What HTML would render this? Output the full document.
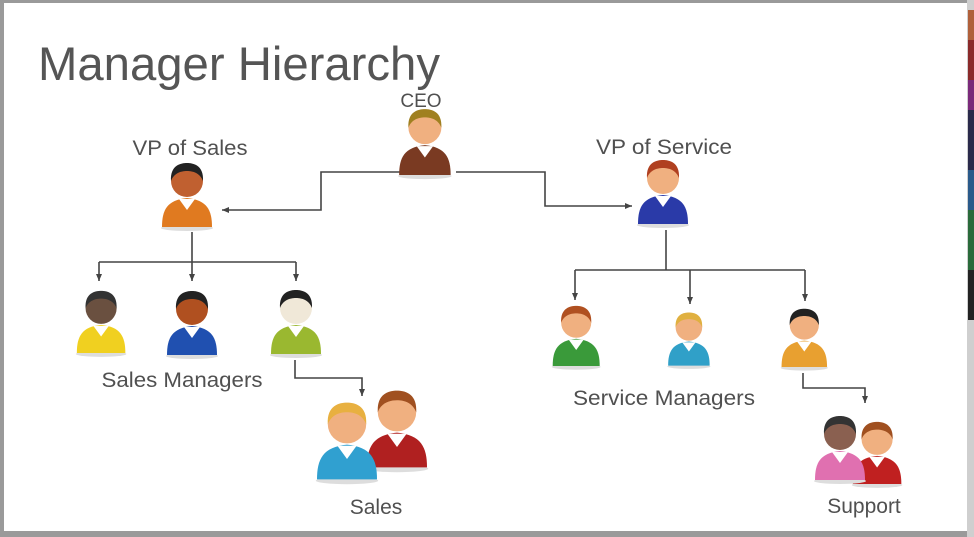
<!DOCTYPE html>
<html><head><meta charset="utf-8"><style>
html,body{margin:0;padding:0;background:#fff;}
svg{display:block;}
text{font-family:"Liberation Sans",sans-serif;fill:#505050;}
</style></head><body>
<svg width="974" height="537" viewBox="0 0 974 537" xmlns="http://www.w3.org/2000/svg">
<defs>
<marker id="a" markerWidth="8" markerHeight="8" refX="7" refY="4" orient="auto" markerUnits="userSpaceOnUse">
<path d="M0,1 L7,4 L0,7 Z" fill="#444"/></marker>
<g id="p">
<ellipse cx="30" cy="68" rx="26" ry="3" fill="#ddd"/>
<path d="M5 67 C5 50 10 40 30 38 C50 40 55 50 55 67 Z" fill="var(--b)"/>
<path d="M22 39 L30 50 L38 39 Z" fill="#fff"/>
<circle cx="30" cy="21" r="16" fill="var(--s)"/>
<path d="M14 21 C13 5 24 3 30 3 C36 3 47 5 46 21 C43 13 36 11 30 11 C24 11 17 13 14 21 Z" fill="var(--h)"/>
</g>
</defs>
<rect x="0" y="0" width="974" height="537" fill="#9a9a9a"/>
<rect x="4" y="3" width="963" height="528" fill="#fff"/>
<rect x="967" y="0" width="7" height="537" fill="#cfcfcf"/>
<rect x="968" y="10" width="6" height="30" fill="#b0603a"/>
<rect x="968" y="40" width="6" height="40" fill="#8a2a2a"/>
<rect x="968" y="80" width="6" height="30" fill="#7a2a7a"/>
<rect x="968" y="110" width="6" height="60" fill="#2a2a4a"/>
<rect x="968" y="170" width="6" height="40" fill="#2a5a8a"/>
<rect x="968" y="210" width="6" height="60" fill="#2a6a3a"/>
<rect x="968" y="270" width="6" height="50" fill="#222"/>

<text x="38" y="80" font-size="47" textLength="402" lengthAdjust="spacingAndGlyphs" style="fill:#555">Manager Hierarchy</text>
<text x="421" y="107" font-size="19" text-anchor="middle">CEO</text>
<text x="190" y="155" font-size="21" text-anchor="middle" textLength="115" lengthAdjust="spacingAndGlyphs">VP of Sales</text>
<text x="664" y="154" font-size="21" text-anchor="middle" textLength="136" lengthAdjust="spacingAndGlyphs">VP of Service</text>
<text x="182" y="387" font-size="21" text-anchor="middle" textLength="161" lengthAdjust="spacingAndGlyphs">Sales Managers</text>
<text x="664" y="405" font-size="21" text-anchor="middle" textLength="182" lengthAdjust="spacingAndGlyphs">Service Managers</text>
<text x="376" y="514" font-size="21" text-anchor="middle">Sales</text>
<text x="864" y="513" font-size="21" text-anchor="middle">Support</text>

<g stroke="#444" stroke-width="1.6" fill="none">
<path d="M400 172 H321 V210 H222" marker-end="url(#a)"/>
<path d="M456 172 H545 V206 H632" marker-end="url(#a)"/>
<path d="M192 232 V262"/>
<path d="M99 262 H296"/>
<path d="M99 262 V281" marker-end="url(#a)"/>
<path d="M192 262 V281" marker-end="url(#a)"/>
<path d="M296 262 V281" marker-end="url(#a)"/>
<path d="M666 230 V270"/>
<path d="M575 270 H805"/>
<path d="M575 270 V300" marker-end="url(#a)"/>
<path d="M690 270 V304" marker-end="url(#a)"/>
<path d="M805 270 V301" marker-end="url(#a)"/>
<path d="M295 360 V378 H362 V396" marker-end="url(#a)"/>
<path d="M803 373 V388 H865 V403" marker-end="url(#a)"/>
</g>

<use href="#p" transform="translate(394,106) scale(1.03)" style="--b:#7a3a22;--s:#f0b080;--h:#a08020"/>
<use href="#p" transform="translate(157,160) scale(1)" style="--b:#e07a20;--s:#c06030;--h:#222"/>
<use href="#p" transform="translate(633,157) scale(1)" style="--b:#2a3aa8;--s:#f0b080;--h:#b04020"/>
<use href="#p" transform="translate(72,288) scale(0.97)" style="--b:#f0d020;--s:#6a5040;--h:#333"/>
<use href="#p" transform="translate(162,288) scale(1)" style="--b:#2050b0;--s:#b05020;--h:#222"/>
<use href="#p" transform="translate(266,287) scale(1)" style="--b:#9ab830;--s:#f0e8d8;--h:#222"/>
<use href="#p" transform="translate(548,303) scale(0.94)" style="--b:#3a9a3a;--s:#f0b080;--h:#b05020"/>
<use href="#p" transform="translate(664,310) scale(0.83)" style="--b:#30a0c8;--s:#f0b080;--h:#e0b040"/>
<use href="#p" transform="translate(777,306) scale(0.91)" style="--b:#e8a030;--s:#f0b080;--h:#222"/>
<use href="#p" transform="translate(361,387) scale(1.2)" style="--b:#b02020;--s:#f0b080;--h:#a05020"/>
<use href="#p" transform="translate(311,399) scale(1.2)" style="--b:#30a0d0;--s:#f0b080;--h:#e8b040"/>
<use href="#p" transform="translate(848,419) scale(0.97)" style="--b:#c02020;--s:#f0b080;--h:#a05020"/>
<use href="#p" transform="translate(810,413) scale(1)" style="--b:#e070b0;--s:#8a6050;--h:#333"/>
</svg>
</body></html>
